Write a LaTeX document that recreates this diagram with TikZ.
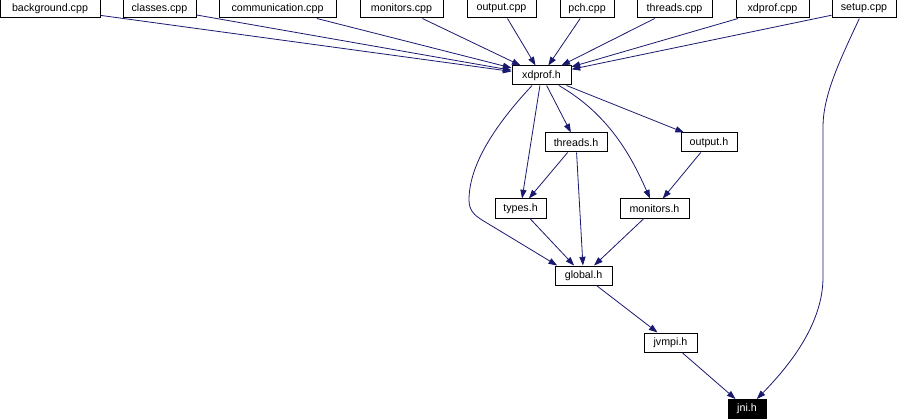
\documentclass[tikz,border=0pt]{standalone}
\usepackage{fontspec}
\setmainfont{Liberation Sans}
\usetikzlibrary{arrows.meta}
\definecolor{edgeblue}{RGB}{25,25,112}
\tikzset{
  >={Triangle[length=6.5pt,width=4.6pt]},
  file/.style={draw=black,line width=0.75pt,fill=white,minimum width=#1*0.75pt,
    minimum height=14.25pt,inner sep=0pt,font=\fontsize{8}{9.6}\selectfont},
  file/.default=60,
  focus/.style={file=#1,fill=black,text=white},
  inc/.style={->,draw=edgeblue,line width=0.6pt},
}

\begin{document}
\begin{tikzpicture}[x=0.75pt,y=-0.75pt]
  \fill[white] (0,0) rectangle (898,420);
  \useasboundingbox (0,0) rectangle (898,420);
  % source files
  \foreach \x/\w/\n/\t in {50/100/bg/background.cpp, 159.5/73/cls/classes.cpp,
      277.5/117/comm/communication.cpp, 401.5/83/mcpp/monitors.cpp,
      501.5/69/ocpp/output.cpp, 587/54/pch/pch.cpp, 674.5/75/tcpp/threads.cpp,
      772.5/73/xcpp/xdprof.cpp, 864/64/setup/setup.cpp}
    \node[file=\w] (\n) at (\x,8.5) {\t};
  % headers
  \node[file=59] (xdp) at (541.5,75.5) {xdprof.h};
  \node[file=62] (thr) at (576,142.5) {threads.h};
  \node[file=56] (out) at (709,142.5) {output.h};
  \node[file=51] (typ) at (520.5,208.5) {types.h};
  \node[file=69] (mon) at (654.5,208.5) {monitors.h};
  \node[file=57] (glob) at (583.5,275.5) {global.h};
  \node[file=53] (jvm) at (670.5,342.5) {jvmpi.h};
  \node[focus=38] (jni) at (747,409) {jni.h};
  % includes
  \foreach \n in {bg,cls,comm,mcpp,ocpp,pch,tcpp,xcpp,setup}
    \draw[inc] (\n) -- (xdp);
  \draw[inc] (setup) .. controls (840,60) and (823,95) .. (823,127) -- (823,277)
    .. controls (823,320) and (795,360) .. (jni);
  \draw[inc] (xdp) .. controls (495,125) and (469,165) .. (469,200)
    .. controls (469,210) and (474,215) .. (482,220) -- ([xshift=2pt]glob.north west);
  \draw[inc] (xdp) -- (typ);
  \draw[inc] (xdp) -- (thr);
  \draw[inc] (xdp) .. controls (610,115) and (632,158) .. (mon);
  \draw[inc] (xdp) -- (out);
  \draw[inc] (thr) -- (typ);
  \draw[inc] (thr) -- (glob);
  \draw[inc] (out) -- (mon);
  \draw[inc] (typ) -- (glob);
  \draw[inc] (mon) -- (glob);
  \draw[inc] (glob) -- (jvm);
  \draw[inc] (jvm) -- (jni);
\end{tikzpicture}
\end{document}
